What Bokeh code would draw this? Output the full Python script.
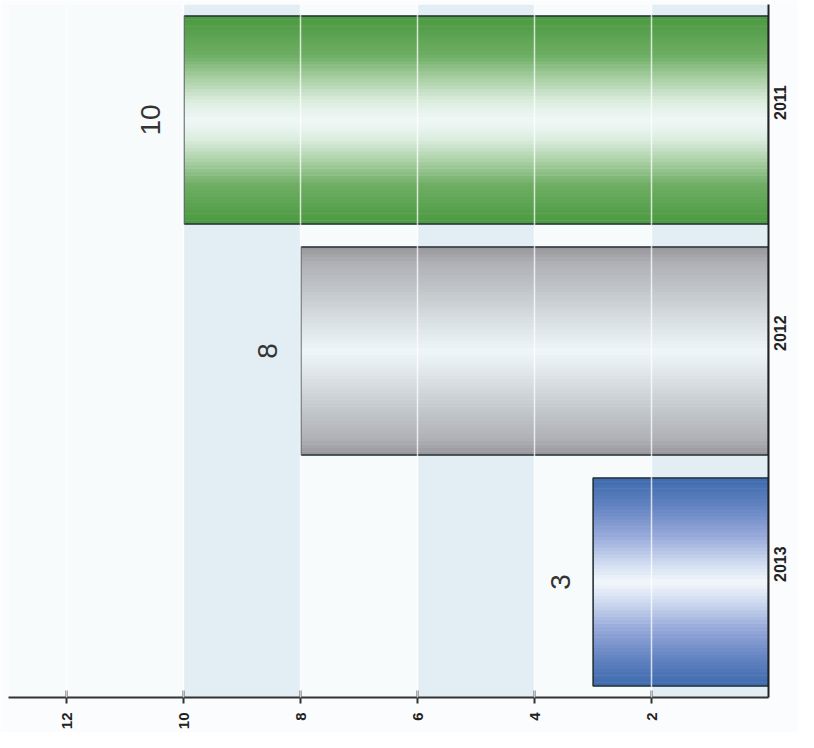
import math
from bokeh.plotting import figure
from bokeh.models import ColumnDataSource, FactorRange, Range1d, FixedTicker, Grid, BoxAnnotation
from bokeh.transform import dodge
from bokeh.core.properties import value
from bokeh.embed import file_html
from bokeh.resources import INLINE

# ---- data ----
categories = ["2011", "2012", "2013"]
values = [10, 8, 3]
value_labels = ["10", "8", "3"]
value_ticks = [2, 4, 6, 8, 10, 12]
tick_labels = ["2", "4", "6", "8", "10", "12"]
band_ticks = [0, 2, 4, 6, 8, 10, 12]

# gradient stops per bar (t = 0 centre highlight -> 1 edge)
green_stops = [(0.0, "#f0f8f8"), (0.18, "#dcede0"), (0.4, "#a9cfa3"), (0.62, "#6fae65"), (1.0, "#4a993f")]
gray_stops = [(0.0, "#eff6f8"), (0.2, "#e0e7ea"), (0.5, "#c8cdd0"), (0.85, "#afb0b5"), (1.0, "#96959a")]
blue_stops = [(0.0, "#f2f7fb"), (0.18, "#d0dcf0"), (0.45, "#96a8da"), (0.75, "#6081c0"), (1.0, "#3c6aad")]
bar_stops = [green_stops, gray_stops, blue_stops]


def hex2rgb(h):
    h = h.lstrip("#")
    return [int(h[i:i + 2], 16) for i in (0, 2, 4)]


def interp(stops, t):
    for (t0, c0), (t1, c1) in zip(stops[:-1], stops[1:]):
        if t <= t1:
            f = (t - t0) / (t1 - t0) if t1 > t0 else 0
            a, b = hex2rgb(c0), hex2rgb(c1)
            r = [round(a[i] + (b[i] - a[i]) * f) for i in range(3)]
            return "#%02x%02x%02x" % tuple(r)
    return stops[-1][1]


BAR_H = 0.9
N = 60

data = dict(cat=categories, val=values, lab=value_labels, zero=[0] * len(values))
offsets = []
for k in range(N):
    o = -BAR_H / 2 + (k + 0.5) * BAR_H / N
    offsets.append(o)
    t = abs(o) / (BAR_H / 2)
    data["c%d" % k] = [interp(st, t) for st in bar_stops]
src = ColumnDataSource(data)

p = figure(width=798, height=732,
           x_range=Range1d(13, 0),
           y_range=FactorRange(factors=list(reversed(categories))),
           y_axis_location="right",
           output_backend="svg", toolbar_location=None,
           min_border_left=8, min_border_right=30,
           min_border_top=4, min_border_bottom=28)

p.background_fill_color = "#f8fbfc"
p.border_fill_color = "#fbfcfd"
p.outline_line_color = None
p.xgrid.grid_line_color = None
p.ygrid.grid_line_color = None

# alternating background bands (0-2, 4-6, 8-10)
for lo, hi in zip(band_ticks[0::2], band_ticks[1::2]):
    p.add_layout(BoxAnnotation(left=lo, right=hi, fill_color="#e2eef4", fill_alpha=1.0,
                               line_color=None, level="underlay"))

# gradient bars
for k, o in enumerate(offsets):
    p.hbar(y=dodge("cat", o, range=p.y_range), left="zero", right="val",
           height=BAR_H / N * 1.15, fill_color="c%d" % k, line_color=None, source=src)

# outlines
p.hbar(y="cat", left="zero", right="val", height=BAR_H, fill_color=None,
       line_color="#27323a", line_width=1.6, source=src)

# white grid lines over bars
over = Grid(dimension=0, ticker=FixedTicker(ticks=value_ticks), level="overlay",
            grid_line_color="white", grid_line_alpha=0.75, grid_line_width=1.5)
p.add_layout(over)

# value labels
p.text(x="val", y="cat", text="lab", source=src, x_offset=-33, angle=math.pi / 2,
       text_align="center", text_baseline="middle", text_font=value("Liberation Sans"),
       text_font_size="28px", text_color="#333333")

# x (value) axis
xa = p.xaxis[0]
xa.ticker = FixedTicker(ticks=value_ticks)
xa.major_label_overrides = {t: l for t, l in zip(value_ticks, tick_labels)}
xa.major_label_orientation = math.pi / 2
xa.major_label_text_font = "Liberation Sans"
xa.major_label_text_font_size = "15px"
xa.major_label_text_font_style = "bold"
xa.major_label_text_color = "#222222"
xa.major_label_standoff = 9
xa.axis_line_color = "#333333"
xa.axis_line_width = 2
xa.major_tick_line_color = "#333333"
xa.major_tick_line_width = 2
xa.major_tick_in = 7
xa.major_tick_out = 6
xa.minor_tick_line_color = None

# y (category) axis
ya = p.yaxis[0]
ya.major_label_orientation = math.pi / 2
ya.major_label_text_font = "Liberation Sans"
ya.major_label_text_font_size = "16px"
ya.major_label_text_font_style = "bold"
ya.major_label_text_color = "#222222"
ya.major_label_standoff = 11
ya.axis_line_color = "#222222"
ya.axis_line_width = 2
ya.major_tick_line_color = None
ya.major_tick_in = 0
ya.major_tick_out = 0

open("out.html", "w").write(file_html(p, INLINE))
